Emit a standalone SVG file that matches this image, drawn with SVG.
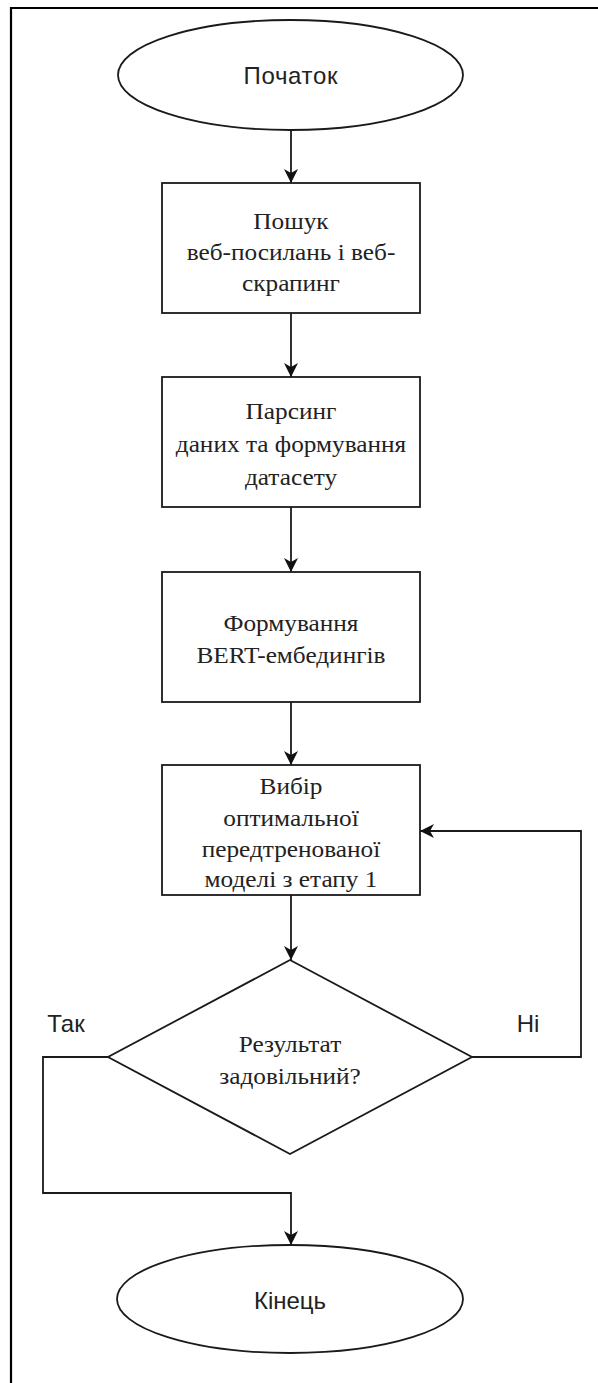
<svg xmlns="http://www.w3.org/2000/svg" width="598" height="1383" viewBox="0 0 598 1383">
<style>
.shape{fill:#fff;stroke:#1a1a1a;stroke-width:1.8}
.conn{fill:none;stroke:#1a1a1a;stroke-width:1.8}
.sans{font-family:"Liberation Sans",Arial,sans-serif;font-size:24px;fill:#222}
.serif{font-family:"Liberation Serif","Times New Roman",serif;font-size:23px;fill:#222}
</style>
<defs>
<marker id="arr" markerUnits="userSpaceOnUse" markerWidth="15" markerHeight="14" refX="14" refY="7" orient="auto">
<path d="M0,0 L14,7 L0,14 L4,7 z" fill="#111"/>
</marker>
</defs>
<rect width="598" height="1383" fill="#fff"/>
<g id="frame">
<path d="M11,1383 V8 H598" fill="none" stroke="#000" stroke-width="2.2"/>
</g>
<g id="connectors">
<path class="conn" d="M291,130 V183" marker-end="url(#arr)"/>
<path class="conn" d="M291,313 V377" marker-end="url(#arr)"/>
<path class="conn" d="M291,507 V572" marker-end="url(#arr)"/>
<path class="conn" d="M291,702 V765" marker-end="url(#arr)"/>
<path class="conn" d="M291,895 V960" marker-end="url(#arr)"/>
<path class="conn" d="M472,1057 H581 V831 H420" marker-end="url(#arr)"/>
<path class="conn" d="M108,1057 H43 V1193 H291 V1245" marker-end="url(#arr)"/>
<text class="sans" x="66" y="1023" text-anchor="middle" dominant-baseline="central">Так</text>
<text class="sans" x="528" y="1023" text-anchor="middle" dominant-baseline="central">Ні</text>
</g>
<g id="start">
<ellipse class="shape" cx="290.5" cy="75" rx="172.5" ry="55"/>
<text class="sans" x="290.5" y="75" text-anchor="middle" dominant-baseline="central" textLength="94">Початок</text>
</g>
<g id="search">
<rect class="shape" x="162" y="183" width="258" height="130"/>
<text class="serif" text-anchor="middle" dominant-baseline="central" transform="translate(291,0) scale(1.1,1) translate(-291,0)"><tspan x="291" y="220">Пошук</tspan><tspan x="291" y="251">веб-посилань і веб-</tspan><tspan x="291" y="282">скрапинг</tspan></text>
</g>
<g id="parsing">
<rect class="shape" x="162" y="377" width="258" height="130"/>
<text class="serif" text-anchor="middle" dominant-baseline="central" transform="translate(291,0) scale(1.1,1) translate(-291,0)"><tspan x="291" y="410">Парсинг</tspan><tspan x="291" y="443">даних та формування</tspan><tspan x="291" y="476">датасету</tspan></text>
</g>
<g id="bert">
<rect class="shape" x="162" y="572" width="258" height="130"/>
<text class="serif" text-anchor="middle" dominant-baseline="central" transform="translate(291,0) scale(1.1,1) translate(-291,0)"><tspan x="291" y="622">Формування</tspan><tspan x="291" y="654">BERT-ембедингів</tspan></text>
</g>
<g id="select">
<rect class="shape" x="162" y="765" width="258" height="130"/>
<text class="serif" text-anchor="middle" dominant-baseline="central" transform="translate(291,0) scale(1.1,1) translate(-291,0)"><tspan x="291" y="785">Вибір</tspan><tspan x="291" y="817">оптимальної</tspan><tspan x="291" y="848">передтренованої</tspan><tspan x="291" y="878">моделі з етапу 1</tspan></text>
</g>
<g id="decision">
<polygon class="shape" points="290,960 472,1057 290,1154 108,1057"/>
<text class="serif" text-anchor="middle" dominant-baseline="central" transform="translate(290,0) scale(1.1,1) translate(-290,0)"><tspan x="290" y="1043">Результат</tspan><tspan x="290" y="1075">задовільний?</tspan></text>
</g>
<g id="end">
<ellipse class="shape" cx="290" cy="1299" rx="173" ry="54"/>
<text class="sans" x="290" y="1300" text-anchor="middle" dominant-baseline="central">Кінець</text>
</g>
</svg>
